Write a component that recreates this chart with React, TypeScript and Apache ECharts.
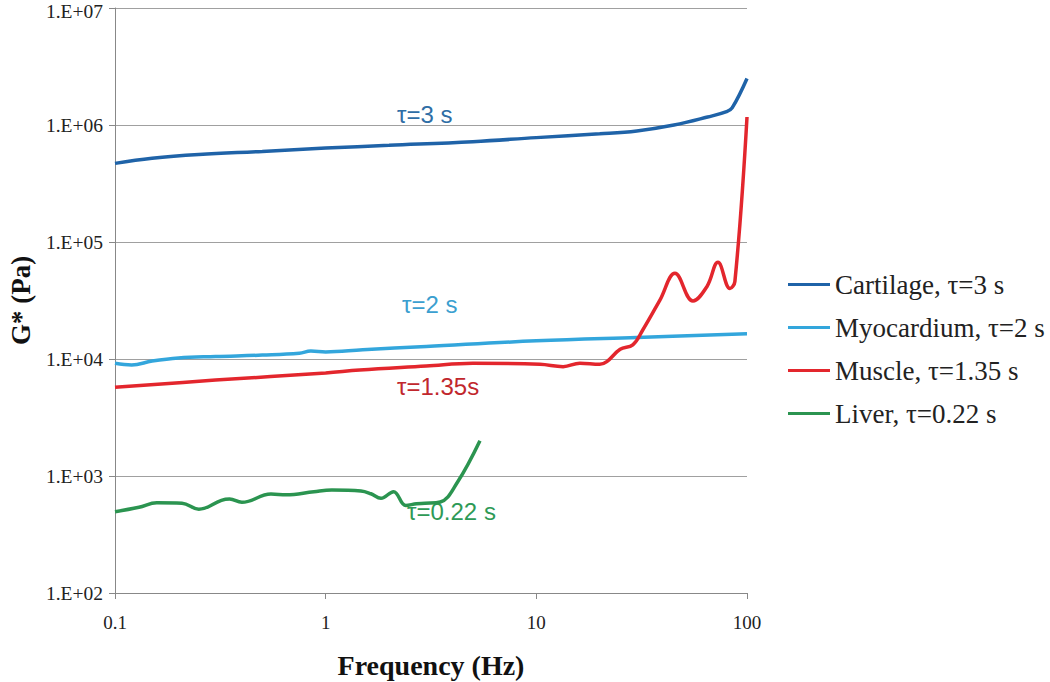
import React, { useEffect, useRef } from "react";
import * as echarts from "echarts";

const xTicks = ["0.1", "1", "10", "100"];
const yTickLabels = ["1.E+02", "1.E+03", "1.E+04", "1.E+05", "1.E+06", "1.E+07"];

const seriesNames = [
  "Cartilage, τ=3 s",
  "Myocardium, τ=2 s",
  "Muscle, τ=1.35 s",
  "Liver, τ=0.22 s",
];

const cartilageF = [0.1, 0.15, 0.25, 0.5, 1, 2, 5, 10, 20, 30, 45, 65, 80, 85, 100];
const cartilageG = [4.7e5, 5.2e5, 5.6e5, 5.95e5, 6.35e5, 6.7e5, 7.2e5, 7.8e5, 8.4e5, 8.9e5, 1.0e6, 1.17e6, 1.3e6, 1.4e6, 2.5e6];

const myoF = [0.1, 0.12, 0.15, 0.2, 0.3, 0.5, 0.75, 0.85, 1, 1.5, 3, 10, 30, 100];
const myoG = [9.2e3, 8.9e3, 9.6e3, 1.02e4, 1.05e4, 1.08e4, 1.12e4, 1.17e4, 1.15e4, 1.2e4, 1.28e4, 1.43e4, 1.53e4, 1.64e4];

const muscleF = [0.1, 0.3, 1, 1.45, 3, 5, 10.4, 13.4, 16.1, 20, 21.6, 25, 28.7, 32, 38.6, 45.5, 55.4, 64.5, 72.8, 83, 87.6, 100];
const muscleG = [5.73e3, 6.6e3, 7.6e3, 8.05e3, 8.7e3, 9.2e3, 9.0e3, 8.6e3, 9.2e3, 9.0e3, 9.5e3, 1.21e4, 1.32e4, 1.77e4, 3.19e4, 5.4e4, 3.13e4, 4.15e4, 6.7e4, 4.0e4, 4.6e4, 1.17e6];

const liverF = [0.1, 0.13, 0.158, 0.208, 0.25, 0.32, 0.35, 0.4, 0.55, 0.65, 0.88, 1.07, 1.47, 1.64, 1.83, 2.1, 2.4, 2.7, 2.96, 3.5, 4.2, 5.4];
const liverG = [495, 540, 590, 585, 520, 620, 636, 596, 700, 690, 735, 759, 745, 705, 645, 735, 560, 580, 585, 600, 870, 2000];

const colors = ["#1f63a8", "#33a6dc", "#e3262d", "#2b9450"];
const annotationTexts = ["τ=3 s", "τ=2 s", "τ=1.35s", "τ=0.22 s"];
const annotationColors = ["#2f6ea6", "#3b9fd0", "#c1272d", "#2e9a56"];

const zip = (xs: number[], ys: number[]) => xs.map((x, i) => [x, ys[i]]);

export default function App() {
  const ref = useRef<HTMLDivElement>(null);
  useEffect(() => {
    if (!ref.current) return;
    const chart = echarts.init(ref.current, null, { renderer: "svg" });
    const serif = "'Liberation Serif', 'Times New Roman', serif";
    const sans = "'Liberation Sans', Arial, sans-serif";
    const data = [zip(cartilageF, cartilageG), zip(myoF, myoG), zip(muscleF, muscleG), zip(liverF, liverG)];
    const annPos = [
      [397, 114],
      [402, 304],
      [397, 386],
      [407, 511],
    ];
    chart.setOption({
      animation: false,
      backgroundColor: "#ffffff",
      grid: { left: 115, right: 303, top: 8, bottom: 89, outerBoundsMode: "none", containLabel: false },
      xAxis: {
        type: "log",
        logBase: 10,
        min: 0.1,
        max: 100,
        name: "Frequency (Hz)",
        nameLocation: "middle",
        nameGap: 58,
        nameTextStyle: { fontFamily: serif, fontWeight: "bold", fontSize: 28, color: "#111" },
        axisLine: { lineStyle: { color: "#888", width: 1 } },
        axisTick: { show: true, length: 6, lineStyle: { color: "#888" } },
        axisLabel: {
          fontFamily: serif,
          fontSize: 19,
          color: "#222",
          margin: 20,
          formatter: (v: number) => {
            const idx = Math.round(Math.log10(v)) + 1;
            return xTicks[idx] ?? String(v);
          },
        },
        splitLine: { show: false },
      },
      yAxis: {
        type: "log",
        logBase: 10,
        min: 100,
        max: 1e7,
        name: "G* (Pa)",
        nameLocation: "middle",
        nameGap: 81,
        nameTextStyle: { fontFamily: serif, fontWeight: "bold", fontSize: 27, color: "#111" },
        axisLine: { show: true, lineStyle: { color: "#888", width: 1 } },
        axisTick: { show: true, length: 6, lineStyle: { color: "#888" } },
        axisLabel: {
          fontFamily: serif,
          fontSize: 19.5,
          lineHeight: 16,
          color: "#222",
          margin: 12,
          formatter: (v: number) => {
            const idx = Math.round(Math.log10(v)) - 2;
            const label = yTickLabels[idx] ?? String(v);
            return idx === yTickLabels.length - 1 ? `{t|${label}}` : label;
          },
          rich: {
            t: {
              fontFamily: serif,
              fontSize: 19.5,
              lineHeight: 16,
              color: "#222",
              padding: [6, 0, 0, 0],
            },
          },
        },
        splitLine: { show: true, lineStyle: { color: "#a0a0a0", width: 1 } },
      },
      legend: {
        orient: "vertical",
        left: 783,
        top: 266,
        icon: "rect",
        itemWidth: 42,
        itemHeight: 3,
        itemGap: 16,
        textStyle: { fontFamily: serif, fontSize: 27, color: "#222" },
        data: seriesNames,
      },
      graphic: annotationTexts.map((t, i) => ({
        type: "text",
        x: annPos[i][0],
        y: annPos[i][1],
        z: 1,
        style: {
          text: t,
          fill: annotationColors[i],
          font: `24px ${sans}`,
          textAlign: "left",
          textVerticalAlign: "middle",
        },
      })),
      series: seriesNames.map((name, i) => ({
        name,
        type: "line",
        data: data[i],
        showSymbol: false,
        symbol: "none",
        smooth: 0.4,
        z: 3,
        lineStyle: { color: colors[i], width: 3.5 },
        itemStyle: { color: colors[i] },
      })),
    });
    return () => chart.dispose();
  }, []);
  return (
    <div
      ref={ref}
      style={{ position: "fixed", left: 0, top: 0, width: 1050, height: 682, background: "#fff" }}
    />
  );
}
